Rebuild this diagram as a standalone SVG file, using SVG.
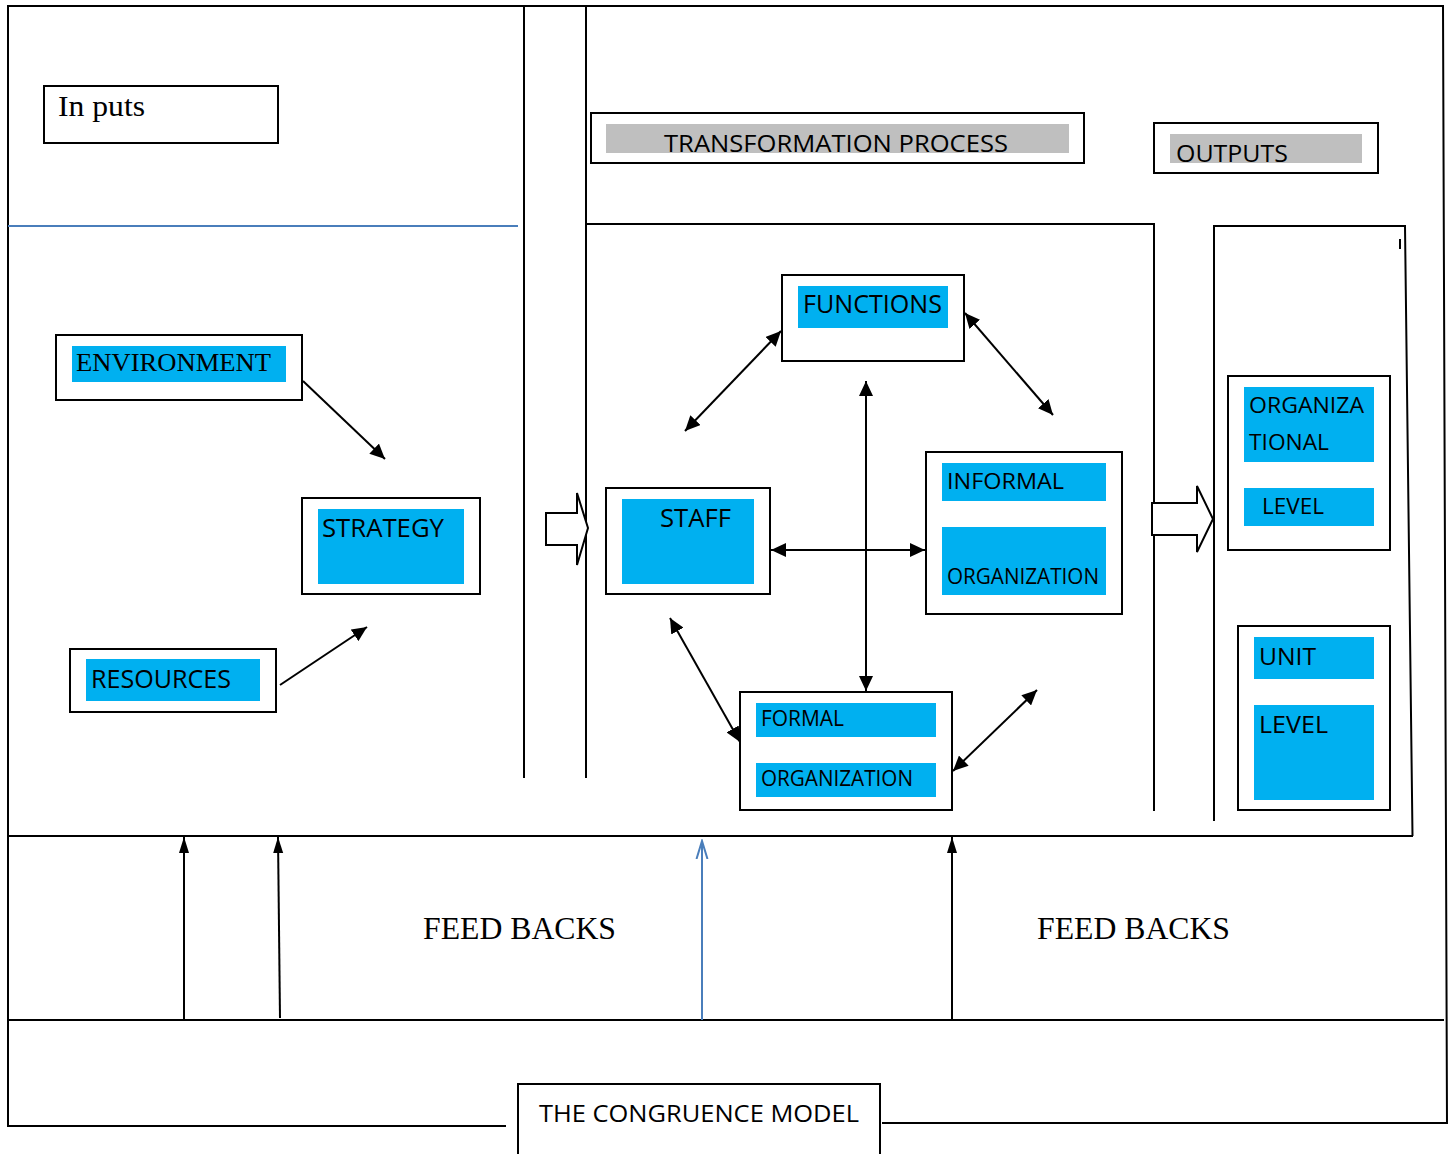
<svg xmlns="http://www.w3.org/2000/svg" width="1452" height="1154" viewBox="0 0 1452 1154">
<defs>
<style>
.frame{fill:none;stroke:#000;stroke-width:2}
.box{fill:#fff;stroke:#000;stroke-width:2}
.blue{fill:#00b0f0}
.gray{fill:#bfbfbf}
.sans{font-family:"Open Sans","Liberation Sans",sans-serif;fill:#000}
.serif{font-family:"Liberation Serif","DejaVu Serif",serif;fill:#000}
.conn{fill:none;stroke:#000;stroke-width:2}
.blk{fill:#fff;stroke:#000;stroke-width:2}
</style>
<marker id="ah" markerUnits="userSpaceOnUse" markerWidth="16" markerHeight="14" refX="15" refY="7" orient="auto-start-reverse">
<path d="M0,0 L15,7 L0,14 z" fill="#000"/>
</marker>
<marker id="fb" markerUnits="userSpaceOnUse" markerWidth="17" markerHeight="12" refX="16" refY="6" orient="auto-start-reverse">
<path d="M0,1 L16,6 L0,11 z" fill="#000"/>
</marker>
<marker id="bo" markerUnits="userSpaceOnUse" markerWidth="20" markerHeight="14" refX="18" refY="7" orient="auto">
<path d="M0,1.5 L18,7 L0,12.5" fill="none" stroke="#4a7ebb" stroke-width="2"/>
</marker>
</defs>

<g id="frame">
<path class="frame" d="M506,1126 L8,1126 L8,6 L1443,6 L1447,1123 L882,1123"/>
<line class="frame" x1="8" y1="836" x2="1413" y2="836"/>
<line class="frame" x1="8" y1="1020" x2="1444" y2="1020"/>
<line class="frame" x1="524" y1="6" x2="524" y2="778"/>
<line class="frame" x1="586" y1="6" x2="586" y2="778"/>
<line x1="8" y1="226" x2="518" y2="226" stroke="#4a7ebb" stroke-width="2"/>
<path class="frame" d="M586,224 L1154,224 L1154,811"/>
<path class="frame" d="M1214,821 L1214,226 L1405,226 L1412.5,836"/>
<line class="frame" x1="1400" y1="239" x2="1400" y2="249"/>
</g>

<g id="inputs">
<rect class="box" x="44" y="86" width="234" height="57"/>
<text class="serif" x="58" y="116" font-size="30" textLength="87" lengthAdjust="spacingAndGlyphs">In puts</text>
</g>

<g id="transformation-process">
<rect class="box" x="591" y="113" width="493" height="50"/>
<rect class="gray" x="606" y="124" width="463" height="29"/>
<text class="sans" x="664" y="152" font-size="24" textLength="344" lengthAdjust="spacingAndGlyphs">TRANSFORMATION PROCESS</text>
</g>

<g id="outputs">
<rect class="box" x="1154" y="123" width="224" height="50"/>
<rect class="gray" x="1170" y="134" width="192" height="29"/>
<text class="sans" x="1176" y="162" font-size="24" textLength="112" lengthAdjust="spacingAndGlyphs">OUTPUTS</text>
</g>

<g id="environment">
<rect class="box" x="56" y="335" width="246" height="65"/>
<rect class="blue" x="72" y="346" width="214" height="36"/>
<text class="serif" x="76" y="371" font-size="26" textLength="195" lengthAdjust="spacingAndGlyphs">ENVIRONMENT</text>
</g>

<g id="strategy">
<rect class="box" x="302" y="498" width="178" height="96"/>
<rect class="blue" x="318" y="509" width="146" height="75"/>
<text class="sans" x="322" y="537" font-size="25" textLength="122" lengthAdjust="spacingAndGlyphs">STRATEGY</text>
</g>

<g id="resources">
<rect class="box" x="70" y="649" width="206" height="63"/>
<rect class="blue" x="86" y="659" width="174" height="42"/>
<text class="sans" x="91" y="688" font-size="25" textLength="140" lengthAdjust="spacingAndGlyphs">RESOURCES</text>
</g>

<g id="functions">
<rect class="box" x="782" y="275" width="182" height="86"/>
<rect class="blue" x="798" y="286" width="150" height="42"/>
<text class="sans" x="803" y="313" font-size="25" textLength="139" lengthAdjust="spacingAndGlyphs">FUNCTIONS</text>
</g>

<g id="staff">
<rect class="box" x="606" y="488" width="164" height="106"/>
<rect class="blue" x="622" y="499" width="132" height="85"/>
<text class="sans" x="660" y="527" font-size="25" textLength="71" lengthAdjust="spacingAndGlyphs">STAFF</text>
</g>

<g id="informal-organization">
<rect class="box" x="926" y="452" width="196" height="162"/>
<rect class="blue" x="942" y="463" width="164" height="38"/>
<rect class="blue" x="942" y="527" width="164" height="68"/>
<text class="sans" x="947" y="489" font-size="22" textLength="117" lengthAdjust="spacingAndGlyphs">INFORMAL</text>
<text class="sans" x="947" y="584" font-size="22" textLength="152" lengthAdjust="spacingAndGlyphs">ORGANIZATION</text>
</g>

<g id="formal-organization">
<rect class="box" x="740" y="692" width="212" height="118"/>
<rect class="blue" x="756" y="703" width="180" height="34"/>
<rect class="blue" x="756" y="763" width="180" height="34"/>
<text class="sans" x="761" y="726" font-size="21" textLength="83" lengthAdjust="spacingAndGlyphs">FORMAL</text>
<text class="sans" x="761" y="786" font-size="21" textLength="152" lengthAdjust="spacingAndGlyphs">ORGANIZATION</text>
</g>

<g id="organizational-level">
<rect class="box" x="1228" y="376" width="162" height="174"/>
<rect class="blue" x="1244" y="387" width="130" height="75"/>
<rect class="blue" x="1244" y="488" width="130" height="38"/>
<text class="sans" x="1249" y="413" font-size="22" textLength="115" lengthAdjust="spacingAndGlyphs">ORGANIZA</text>
<text class="sans" x="1249" y="450" font-size="22" textLength="80" lengthAdjust="spacingAndGlyphs">TIONAL</text>
<text class="sans" x="1262" y="514" font-size="22" textLength="62" lengthAdjust="spacingAndGlyphs">LEVEL</text>
</g>

<g id="unit-level">
<rect class="box" x="1238" y="626" width="152" height="184"/>
<rect class="blue" x="1254" y="637" width="120" height="42"/>
<rect class="blue" x="1254" y="705" width="120" height="95"/>
<text class="sans" x="1259" y="665" font-size="24" textLength="57" lengthAdjust="spacingAndGlyphs">UNIT</text>
<text class="sans" x="1259" y="733" font-size="24" textLength="69" lengthAdjust="spacingAndGlyphs">LEVEL</text>
</g>

<g id="feedback-labels">
<text class="serif" x="423" y="939" font-size="31" textLength="193" lengthAdjust="spacingAndGlyphs">FEED BACKS</text>
<text class="serif" x="1037" y="939" font-size="31" textLength="193" lengthAdjust="spacingAndGlyphs">FEED BACKS</text>
</g>

<g id="congruence-model">
<path class="frame" d="M518,1154 L518,1084 L880,1084 L880,1154"/>
<text class="sans" x="539" y="1122" font-size="23" textLength="320" lengthAdjust="spacingAndGlyphs">THE CONGRUENCE MODEL</text>
</g>

<g id="connectors">
<line class="conn" x1="303" y1="381" x2="385" y2="459" marker-end="url(#ah)"/>
<line class="conn" x1="280" y1="685" x2="367" y2="627" marker-end="url(#ah)"/>
<line class="conn" x1="781" y1="331" x2="685" y2="431" marker-start="url(#ah)" marker-end="url(#ah)"/>
<line class="conn" x1="965" y1="313" x2="1053" y2="415" marker-start="url(#ah)" marker-end="url(#ah)"/>
<line class="conn" x1="866" y1="381" x2="866" y2="691" marker-start="url(#ah)" marker-end="url(#ah)"/>
<line class="conn" x1="771" y1="550" x2="925" y2="550" marker-start="url(#ah)" marker-end="url(#ah)"/>
<line class="conn" x1="670" y1="618" x2="740" y2="742" marker-start="url(#ah)" marker-end="url(#ah)"/>
<line class="conn" x1="953" y1="771" x2="1037" y2="690" marker-start="url(#ah)" marker-end="url(#ah)"/>
<path class="blk" d="M546,513 L577,513 L577,493 L588,528 L577,565 L577,545 L546,545 Z"/>
<path class="blk" d="M1152,503 L1197,503 L1197,486 L1213,519 L1197,552 L1197,535 L1152,535 Z"/>
<line class="conn" x1="184" y1="1020" x2="184" y2="837" marker-end="url(#fb)"/>
<line class="conn" x1="280" y1="1018" x2="278" y2="837" marker-end="url(#fb)"/>
<line x1="702" y1="1020" x2="702" y2="841" stroke="#4a7ebb" stroke-width="2" marker-end="url(#bo)"/>
<line class="conn" x1="952" y1="1020" x2="952" y2="837" marker-end="url(#fb)"/>
</g>
</svg>
